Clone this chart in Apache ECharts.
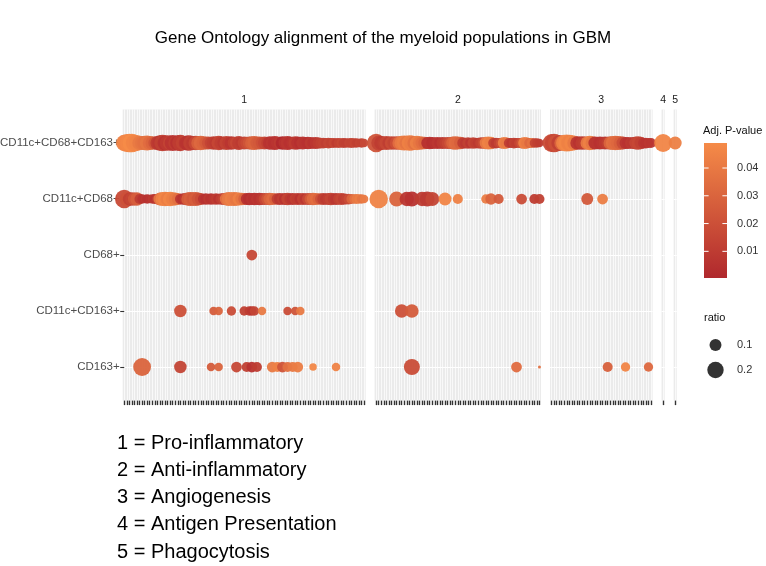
<!DOCTYPE html>
<html><head><meta charset="utf-8">
<script src="https://cdn.jsdelivr.net/npm/echarts@6/dist/echarts.min.js"></script>
<style>html,body{margin:0;padding:0;background:#fff}#c{width:766px;height:566px}</style>
</head><body><div id="c"></div>
<script>
const chartTitle = 'Gene Ontology alignment of the myeloid populations in GBM';
const facetNames = ['1','2','3','4','5'];
const facetSizes = [95, 65, 40, 1, 1];
const populations = ['CD163+','CD11c+CD163+','CD68+','CD11c+CD68+','CD11c+CD68+CD163+'];
const facetNotes = ['1 = Pro-inflammatory','2 = Anti-inflammatory','3 = Angiogenesis','4 = Antigen Presentation','5 = Phagocytosis'];
const pBreaks = [0.01, 0.02, 0.03, 0.04];
const ratioBreaks = [0.1, 0.2];

// ---- Facet 1, CD11c+CD68+CD163+ (every term) ----
const f1_triple_p = [0.044,0.046,0.047,0.049,0.046,0.045,0.040,0.038,
 0.036,0.038,0.034,0.030,0.022,
 0.010,0.008,0.012,0.006,0.009,0.014,0.007,0.011,0.005,0.010,0.013,0.008,0.006,0.012,0.009,0.016,
 0.028,0.032,0.030,0.026,0.020,0.014,
 0.012,0.009,0.015,0.011,0.008,0.013,0.010,0.007,0.012,0.016,0.011,0.009,0.014,0.018,0.022,
 0.028,0.030,0.026,0.024,0.020,0.016,0.012,
 0.006,0.008,0.005,0.007,0.009,0.0004,0.006,0.008,0.005,0.007,0.010,0.006,0.004,0.008,0.007,0.005,0.009,0.006,0.008,0.010,0.012,
 0.013,0.011,0.014,0.012,0.015,0.010,0.013,0.016,0.012,0.011,0.014,0.013,0.015,0.012,0.014,0.013,0.016];
const f1_triple_r = [0.20,0.24,0.26,0.26,0.22,0.18,0.15,0.14,
 0.15,0.16,0.14,0.13,0.12,
 0.14,0.17,0.20,0.16,0.18,0.15,0.19,0.14,0.17,0.20,0.15,0.13,0.18,0.16,0.14,0.15,
 0.14,0.15,0.13,0.12,0.12,0.11,
 0.13,0.12,0.15,0.13,0.11,0.14,0.12,0.13,0.11,0.12,0.14,0.10,0.12,0.11,0.12,
 0.13,0.14,0.12,0.12,0.11,0.12,0.10,
 0.13,0.12,0.14,0.12,0.11,0.13,0.12,0.14,0.12,0.11,0.13,0.12,0.11,0.12,0.10,0.11,0.10,0.09,0.10,0.09,0.08,
 0.08,0.07,0.08,0.07,0.07,0.06,0.07,0.06,0.07,0.06,0.06,0.07,0.06,0.06,0.05,0.06,0.05];

// ---- Facet 1, CD11c+CD68+ (every term) ----
const f1_double_p = [0.017,
 0.020,0.012,0.015,0.022,
 0.027,
 0.010,0.006,0.008,0.005,0.007,0.009,0.006,0.012,
 0.038,0.044,0.046,0.042,0.047,0.043,0.040,0.036,
 0.008,0.006,0.010,
 0.026,0.028,0.024,0.027,0.022,0.018,
 0.007,0.005,0.009,0.006,0.008,0.010,0.006,0.011,0.014,
 0.036,0.040,0.043,0.041,0.039,0.044,0.038,0.030,
 0.006,0.004,0.007,0.005,0.008,0.006,0.009,
 0.015,0.022,0.030,0.034,0.028,0.012,
 0.008,0.011,0.006,0.014,0.009,0.007,0.012,0.010,0.006,0.013,0.008,0.016,
 0.026,0.033,0.035,0.030,0.020,
 0.012,0.009,0.011,0.014,0.010,0.008,0.012,0.015,0.011,0.013,0.018,
 0.030,0.036,0.040,0.042,0.038,0.041];
const f1_double_r = [0.26,
 0.14,0.12,0.13,0.12,
 0.13,
 0.07,0.06,0.05,0.06,0.05,0.06,0.07,0.08,
 0.12,0.14,0.15,0.14,0.15,0.13,0.12,0.10,
 0.08,0.09,0.10,
 0.13,0.14,0.13,0.14,0.12,0.10,
 0.08,0.09,0.08,0.09,0.08,0.09,0.08,0.09,0.10,
 0.12,0.14,0.13,0.14,0.13,0.12,0.11,0.10,
 0.10,0.11,0.10,0.11,0.10,0.11,0.10,
 0.10,0.10,0.11,0.10,0.09,0.09,
 0.10,0.09,0.10,0.11,0.09,0.10,0.09,0.10,0.09,0.10,0.09,0.10,
 0.10,0.11,0.10,0.09,0.09,
 0.10,0.09,0.10,0.11,0.09,0.10,0.09,0.10,0.09,0.08,0.08,
 0.07,0.06,0.07,0.06,0.06,0.05];

// ---- Facet 2, CD11c+CD68+CD163+ (every term) ----
const f2_triple_p = [0.022,
 0.014,0.010,
 0.012,0.016,0.011,0.018,0.014,0.020,
 0.034,0.040,0.042,0.038,0.044,0.041,0.036,0.043,0.039,0.035,0.030,
 0.005,0.007,0.004,0.006,0.008,0.005,0.009,0.012,0.016,0.022,
 0.030,0.034,0.032,0.028,
 0.010,0.008,0.012,0.007,0.014,0.011,0.009,0.013,0.018,
 0.040,0.045,0.042,
 0.012,0.009,0.014,0.020,
 0.043,0.040,
 0.011,0.008,0.012,0.010,0.015,0.022,
 0.044,0.040,0.032,0.036,
 0.014,0.012,0.010];
const f2_triple_r = [0.26,
 0.16,0.14,
 0.12,0.14,0.12,0.13,0.12,0.13,
 0.13,0.15,0.16,0.15,0.17,0.16,0.14,0.15,0.13,0.12,0.11,
 0.10,0.11,0.10,0.09,0.10,0.09,0.10,0.09,0.10,0.10,
 0.12,0.13,0.12,0.11,
 0.09,0.08,0.09,0.08,0.09,0.08,0.08,0.09,0.09,
 0.11,0.12,0.11,
 0.08,0.08,0.07,0.08,
 0.10,0.09,
 0.07,0.07,0.08,0.07,0.07,0.08,
 0.10,0.09,0.07,0.07,
 0.06,0.06,0.05];

// ---- Facet 3, CD11c+CD68+CD163+ (every term) ----
const f3_triple_p = [0.018,0.016,0.020,
 0.012,0.030,
 0.045,0.047,0.044,0.046,0.040,
 0.008,0.006,0.010,0.012,
 0.040,0.044,0.038,
 0.006,0.008,0.005,0.007,0.009,0.012,
 0.030,0.036,0.034,0.032,0.028,0.018,
 0.007,0.006,0.009,0.008,
 0.014,0.016,0.012,
 0.007,0.006,0.008,0.007];
const f3_triple_r = [0.24,0.26,0.22,
 0.18,0.16,
 0.20,0.22,0.20,0.18,0.15,
 0.13,0.12,0.13,0.12,
 0.13,0.15,0.13,
 0.12,0.11,0.12,0.11,0.12,0.11,
 0.13,0.14,0.15,0.14,0.13,0.12,
 0.10,0.10,0.09,0.10,
 0.12,0.13,0.11,
 0.08,0.08,0.07,0.07];

// ---- Facets 4 and 5 ----
const f4_triple = [[0, 0.046, 0.24]];
const f5_triple = [[0, 0.043, 0.12]];

// ---- Sparse rows: [term index, adj. p-value, ratio] ----
const f2_double = [[1,0.045,0.26],[8,0.030,0.16],[12,0.008,0.15],[14,0.006,0.16],[18,0.010,0.15],[20,0.009,0.16],[22,0.014,0.14],[27,0.046,0.12],[32,0.044,0.07],[43,0.042,0.06],[45,0.030,0.09],[48,0.025,0.07],[57,0.018,0.08],[62,0.010,0.07],[64,0.012,0.07]];
const f3_double = [[14,0.024,0.10],[20,0.042,0.08]];
const f1_cd68 = [[50,0.016,0.08]];
const f1_cd11c163 = [[22,0.020,0.11],[35,0.026,0.05],[37,0.030,0.05],[42,0.018,0.06],[47,0.012,0.06],[49,0.010,0.06],[50,0.008,0.06],[51,0.014,0.06],[54,0.040,0.05],[64,0.018,0.05],[67,0.022,0.05],[69,0.040,0.05]];
const f2_cd11c163 = [[10,0.020,0.13],[14,0.026,0.13]];
const f1_cd163 = [[7,0.030,0.24],[22,0.014,0.11],[34,0.026,0.05],[37,0.030,0.05],[44,0.016,0.08],[48,0.012,0.07],[50,0.006,0.08],[52,0.010,0.07],[58,0.040,0.08],[60,0.044,0.07],[62,0.022,0.08],[64,0.036,0.07],[66,0.040,0.07],[68,0.042,0.08],[74,0.047,0.04],[83,0.045,0.05]];
const f2_cd163 = [[14,0.018,0.19],[55,0.034,0.08],[64,0.036,0.02]];
const f3_cd163 = [[22,0.028,0.07],[29,0.046,0.06],[38,0.032,0.06]];

// ---- assemble ----
const rowOf = name => populations.indexOf(name) + 1;
const dense = (pArr, rArr, pop) => pArr.map((p, i) => [i, rowOf(pop), p, rArr[i]]);
const sparse = (list, pop) => list.map(d => [d[0], rowOf(pop), d[1], d[2]]);
const facetData = [
  [...sparse(f1_cd163,'CD163+'), ...sparse(f1_cd11c163,'CD11c+CD163+'), ...sparse(f1_cd68,'CD68+'),
   ...dense(f1_double_p, f1_double_r, 'CD11c+CD68+'), ...dense(f1_triple_p, f1_triple_r, 'CD11c+CD68+CD163+')],
  [...sparse(f2_cd163,'CD163+'), ...sparse(f2_cd11c163,'CD11c+CD163+'),
   ...sparse(f2_double,'CD11c+CD68+'), ...dense(f2_triple_p, f2_triple_r, 'CD11c+CD68+CD163+')],
  [...sparse(f3_cd163,'CD163+'), ...sparse(f3_double,'CD11c+CD68+'), ...dense(f3_triple_p, f3_triple_r, 'CD11c+CD68+CD163+')],
  [...sparse(f4_triple,'CD11c+CD68+CD163+')],
  [...sparse(f5_triple,'CD11c+CD68+CD163+')]
];
const allPts = facetData.flat();
const pLo = Math.min(...allPts.map(d => d[2])), pHi = Math.max(...allPts.map(d => d[2]));
const rLo = Math.min(...allPts.map(d => d[3])), rHi = Math.max(...allPts.map(d => d[3]));
const dMin = 3, dMax = 18.5;
const sizeOf = r => dMin + (dMax - dMin) * Math.sqrt(Math.max(0, (r - rLo) / (rHi - rLo)));
const colLow = '#b0282d', colHigh = '#f58b48';

// ---- layout ----
const L = { left: 122.7, right: 676.7, top: 109.4, bottom: 400.6, gap: 9 };
const units = facetSizes.map(n => n + 0.2);
const u = (L.right - L.left - L.gap * (facetSizes.length - 1)) / units.reduce((a, b) => a + b, 0);
let cx = L.left;
const panels = units.map(w => { const p = { left: cx, width: w * u }; cx += w * u + L.gap; return p; });
const FONT = 'Liberation Sans, Arial, sans-serif';

const grids = [], xAxes = [], yAxes = [], series = [], graphics = [];
panels.forEach((p, k) => {
  const n = facetSizes[k];
  grids.push({ left: p.left, top: L.top, width: p.width, height: L.bottom - L.top, show: true,
    backgroundColor: '#EBEBEB', borderWidth: 0, containLabel: false, outerBoundsMode: 'none' });
  xAxes.push({ gridIndex: k, type: 'value', min: -0.6, max: n - 0.4,
    axisLine: { show: false },
    axisTick: { show: true, length: 4.5, lineStyle: { color: '#333', width: 1.4 }, customValues: Array.from({ length: n }, (_, i) => i) },
    axisLabel: { show: false },
    splitLine: { show: true, lineStyle: { color: '#ffffff', width: 0.7 } } });
  yAxes.push({ gridIndex: k, type: 'value', min: 0.4, max: 5.6,
    axisLine: { show: false },
    axisTick: { show: k === 0, length: 4, lineStyle: { color: '#333', width: 1.1 }, customValues: [1, 2, 3, 4, 5] },
    axisLabel: { show: k === 0, customValues: [1, 2, 3, 4, 5], formatter: v => populations[Math.round(v) - 1],
      color: '#4d4d4d', fontSize: 11.5, margin: 3, fontFamily: FONT },
    splitLine: { show: true, lineStyle: { color: '#ffffff', width: 1 } } });
  series.push({ type: 'scatter', xAxisIndex: k, yAxisIndex: k, data: facetData[k], clip: false,
    symbolSize: v => sizeOf(v[3]), itemStyle: { opacity: 0.95 }, z: 3, silent: true });
  graphics.push({ type: 'text', x: p.left + p.width / 2, y: 100,
    style: { text: facetNames[k], fontSize: 10.5, fill: '#1a1a1a', align: 'center', verticalAlign: 'middle', fontFamily: FONT } });
});

// ---- legends ----
const cb = { x: 704, y: 143, w: 23, h: 135 };
const pToY = v => cb.y + cb.h * (pHi - v) / (pHi - pLo);
graphics.push({ type: 'text', x: 703, y: 131, style: { text: 'Adj. P-value', fontSize: 11, fill: '#111', verticalAlign: 'middle', fontFamily: FONT } });
graphics.push({ type: 'rect', shape: { x: cb.x, y: cb.y, width: cb.w, height: cb.h },
  style: { fill: new echarts.graphic.LinearGradient(0, 0, 0, 1, [{ offset: 0, color: colHigh }, { offset: 1, color: colLow }]) } });
pBreaks.forEach(b => {
  const y = pToY(b);
  graphics.push({ type: 'line', shape: { x1: cb.x, y1: y, x2: cb.x + cb.w * 0.2, y2: y }, style: { stroke: '#fff', lineWidth: 1 } });
  graphics.push({ type: 'line', shape: { x1: cb.x + cb.w * 0.8, y1: y, x2: cb.x + cb.w, y2: y }, style: { stroke: '#fff', lineWidth: 1 } });
  graphics.push({ type: 'text', x: 737, y: y, style: { text: b.toFixed(2), fontSize: 11, fill: '#333', verticalAlign: 'middle', fontFamily: FONT } });
});
graphics.push({ type: 'text', x: 704, y: 318, style: { text: 'ratio', fontSize: 11, fill: '#111', verticalAlign: 'middle', fontFamily: FONT } });
ratioBreaks.forEach((b, i) => {
  const y = 345 + i * 25;
  graphics.push({ type: 'circle', shape: { cx: 715.5, cy: y, r: sizeOf(b) / 2 }, style: { fill: '#333' } });
  graphics.push({ type: 'text', x: 737, y: y, style: { text: String(b), fontSize: 11, fill: '#333', verticalAlign: 'middle', fontFamily: FONT } });
});
facetNotes.forEach((t, i) => {
  graphics.push({ type: 'text', x: 117, y: 443 + i * 27.3, style: { text: t, fontSize: 20, fill: '#000', verticalAlign: 'middle', fontFamily: FONT } });
});

const chart = echarts.init(document.getElementById('c'), null, { renderer: 'canvas' });
chart.setOption({
  animation: false,
  backgroundColor: '#ffffff',
  textStyle: { fontFamily: FONT },
  title: { text: chartTitle, left: 'center', top: 25, textStyle: { fontSize: 17, fontWeight: 'normal', color: '#000', fontFamily: FONT } },
  grid: grids, xAxis: xAxes, yAxis: yAxes,
  visualMap: { type: 'continuous', show: false, dimension: 2, min: pLo, max: pHi, seriesIndex: series.map((_, i) => i),
    inRange: { color: [colLow, colHigh] } },
  series: series,
  graphic: graphics
});
</script></body></html>
